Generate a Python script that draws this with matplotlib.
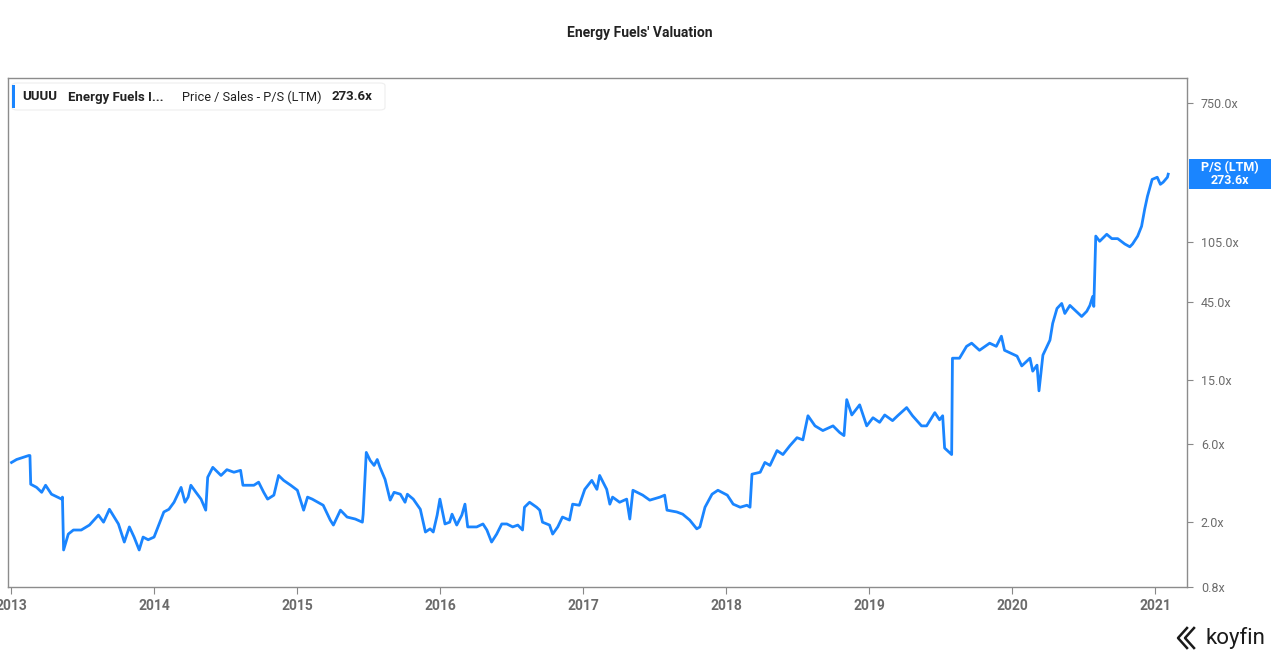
import matplotlib.pyplot as plt
import matplotlib.dates as mdates
from matplotlib.patches import FancyBboxPatch, Rectangle
from matplotlib.lines import Line2D
import pandas as pd

plt.rcParams['font.family'] = ['Roboto', 'DejaVu Sans']

# P/S (LTM)
dates = [
    '2013-01-02', '2013-01-15', '2013-02-15', '2013-02-18', '2013-02-20', '2013-03-07',
    '2013-03-20', '2013-03-30', '2013-04-14', '2013-05-10', '2013-05-12', '2013-05-15',
    '2013-05-27', '2013-06-09', '2013-06-29', '2013-07-20', '2013-08-12', '2013-08-25',
    '2013-09-09', '2013-10-02', '2013-10-17', '2013-10-30', '2013-11-11', '2013-11-24',
    '2013-12-04', '2013-12-17', '2014-01-01', '2014-01-11', '2014-01-26', '2014-02-08',
    '2014-02-21', '2014-03-11', '2014-03-21', '2014-03-29', '2014-04-05', '2014-04-18',
    '2014-05-01', '2014-05-13', '2014-05-18', '2014-05-31', '2014-06-21', '2014-07-06',
    '2014-07-24', '2014-08-10', '2014-08-16', '2014-09-13', '2014-09-25', '2014-10-08',
    '2014-10-18', '2014-11-03', '2014-11-15', '2014-11-28', '2014-12-16', '2015-01-02',
    '2015-01-18', '2015-01-28', '2015-02-09', '2015-03-09', '2015-03-27', '2015-04-04',
    '2015-04-22', '2015-05-09', '2015-05-30', '2015-06-17', '2015-06-19', '2015-06-27',
    '2015-07-07', '2015-07-17', '2015-07-25', '2015-08-01', '2015-08-14', '2015-08-27',
    '2015-09-06', '2015-09-22', '2015-10-04', '2015-10-10', '2015-10-25', '2015-11-12',
    '2015-11-25', '2015-12-07', '2015-12-15', '2015-12-25', '2016-01-01', '2016-01-14',
    '2016-01-26', '2016-02-01', '2016-02-13', '2016-02-26', '2016-03-05', '2016-03-12',
    '2016-04-04', '2016-04-20', '2016-04-30', '2016-05-12', '2016-05-25', '2016-06-07',
    '2016-06-20', '2016-07-05', '2016-07-18', '2016-07-30', '2016-08-04', '2016-08-17',
    '2016-09-04', '2016-09-12', '2016-09-19', '2016-10-07', '2016-10-15', '2016-10-28',
    '2016-11-09', '2016-11-27', '2016-12-05', '2016-12-22', '2017-01-05', '2017-01-23',
    '2017-02-05', '2017-02-12', '2017-03-02', '2017-03-10', '2017-03-17', '2017-04-04',
    '2017-04-22', '2017-04-30', '2017-05-08', '2017-06-02', '2017-06-20', '2017-07-16',
    '2017-07-28', '2017-08-03', '2017-08-28', '2017-09-12', '2017-09-30', '2017-10-18',
    '2017-10-26', '2017-11-08', '2017-11-26', '2017-12-11', '2018-01-04', '2018-01-19',
    '2018-02-06', '2018-02-23', '2018-03-03', '2018-03-08', '2018-03-29', '2018-04-10',
    '2018-04-23', '2018-05-11', '2018-05-26', '2018-06-13', '2018-07-01', '2018-07-16',
    '2018-07-29', '2018-08-16', '2018-09-05', '2018-10-01', '2018-10-18', '2018-10-29',
    '2018-11-05', '2018-11-18', '2018-12-08', '2018-12-26', '2019-01-11', '2019-01-28',
    '2019-02-10', '2019-03-02', '2019-03-15', '2019-04-07', '2019-04-22', '2019-05-15',
    '2019-05-28', '2019-06-18', '2019-06-30', '2019-07-08', '2019-07-13', '2019-07-31',
    '2019-08-02', '2019-08-20', '2019-09-07', '2019-09-20', '2019-10-10', '2019-11-05',
    '2019-11-22', '2019-12-05', '2019-12-13', '2020-01-14', '2020-01-26', '2020-02-16',
    '2020-02-23', '2020-03-05', '2020-03-10', '2020-03-20', '2020-04-07', '2020-04-14',
    '2020-04-25', '2020-05-07', '2020-05-15', '2020-05-28', '2020-06-27', '2020-07-10',
    '2020-07-18', '2020-07-25', '2020-07-28', '2020-08-02', '2020-08-12', '2020-08-30',
    '2020-09-12', '2020-09-27', '2020-10-15', '2020-10-28', '2020-11-04', '2020-11-17',
    '2020-11-27', '2020-12-05', '2020-12-12', '2020-12-24', '2021-01-06', '2021-01-14',
    '2021-01-21', '2021-02-01', '2021-02-03',
]
ps_ratio = [
    4.65, 4.85, 5.13, 5.13, 3.42, 3.27,
    3.05, 3.37, 2.97, 2.77, 2.85, 1.35,
    1.69, 1.79, 1.79, 1.92, 2.21, 2.00,
    2.40, 1.95, 1.51, 1.87, 1.62, 1.35,
    1.62, 1.56, 1.62, 1.87, 2.31, 2.40,
    2.65, 3.27, 2.65, 2.85, 3.37, 3.05,
    2.77, 2.37, 3.77, 4.34, 3.87, 4.20,
    4.05, 4.16, 3.37, 3.37, 3.52, 3.05,
    2.77, 2.93, 3.87, 3.61, 3.37, 3.14,
    2.37, 2.85, 2.77, 2.54, 2.06, 1.92,
    2.37, 2.15, 2.09, 2.00, 2.24, 5.36,
    4.78, 4.46, 4.85, 4.34, 3.66, 2.73,
    3.05, 2.97, 2.65, 2.97, 2.77, 2.40,
    1.74, 1.82, 1.74, 2.21, 2.77, 1.95,
    2.00, 2.24, 1.92, 2.21, 2.58, 1.87,
    1.87, 1.95, 1.79, 1.51, 1.69, 1.95,
    1.95, 1.87, 1.92, 1.79, 2.47, 2.65,
    2.47, 2.37, 2.00, 1.92, 1.69, 1.87,
    2.15, 2.06, 2.58, 2.54, 3.18, 3.61,
    3.18, 3.87, 3.18, 2.58, 2.85, 2.65,
    2.77, 2.09, 3.14, 2.93, 2.73, 2.85,
    2.93, 2.37, 2.31, 2.24, 2.06, 1.82,
    1.87, 2.47, 2.97, 3.14, 2.93, 2.58,
    2.47, 2.54, 2.47, 3.94, 4.05, 4.65,
    4.46, 5.50, 5.20, 5.90, 6.60, 6.40,
    9.00, 7.80, 7.30, 7.80, 7.10, 6.80,
    11.3, 9.10, 10.5, 7.80, 8.75, 8.20,
    9.10, 8.40, 9.00, 10.1, 9.00, 7.80,
    7.80, 9.40, 8.50, 9.00, 5.70, 5.20,
    20.3, 20.3, 24.0, 25.1, 22.7, 25.1,
    24.0, 27.7, 22.7, 20.9, 18.2, 20.3,
    16.9, 18.4, 12.8, 21.2, 26.2, 33.2,
    41.0, 44.0, 38.2, 42.8, 36.6, 39.4,
    42.8, 48.5, 42.2, 114, 106, 117,
    110, 110, 102, 98, 102, 114,
    131, 167, 200, 254, 262, 237,
    244, 262, 273.6,
]
year_ticks = ['2013', '2014', '2015', '2016', '2017', '2018', '2019', '2020', '2021']
y_ticks = [0.8, 2.0, 6.0, 15.0, 45.0, 105.0, 750.0]
last_value = 273.6

blue = '#1A85FF'
grey = '#6b6b6b'

fig = plt.figure(figsize=(12.8, 6.62), dpi=100)
ax = fig.add_axes([8 / 1280, 75 / 662, 1179 / 1280, 509 / 662])

ax.plot(pd.to_datetime(dates), ps_ratio, color=blue, lw=2.0, solid_joinstyle='round')

ax.set_yscale('log')
ax.set_ylim(0.8, 1065)
ax.set_xlim(pd.Timestamp('2012-12-24'), pd.Timestamp('2021-03-23'))

ax.set_yticks(y_ticks)
ax.set_yticklabels(['{:.1f}x'.format(v) for v in y_ticks])
ax.yaxis.set_minor_locator(plt.NullLocator())
ax.yaxis.tick_right()
ax.tick_params(axis='y', colors='#888888', labelcolor=grey, labelsize=9, length=4, pad=6)

ax.set_xticks(pd.to_datetime([y + '-01-01' for y in year_ticks]))
ax.set_xticklabels(year_ticks)
ax.tick_params(axis='x', colors='#888888', labelcolor=grey, labelsize=10, length=5, pad=4)
for lab in ax.get_xticklabels():
    lab.set_fontweight('bold')

for s in ax.spines.values():
    s.set_color('#8c8c8c')
    s.set_linewidth(1.0)

fig.text(640 / 1280, 1 - 33 / 662, "Energy Fuels' Valuation", ha='center', va='center',
         fontsize=10, fontweight='bold', color='#222222')

# legend box top-left
fig.add_artist(FancyBboxPatch((12 / 1280, 1 - 110 / 662), 373 / 1280, 27 / 662,
                              boxstyle='round,pad=0,rounding_size=0.004',
                              transform=fig.transFigure, fc='white', ec='#eeeeee', lw=0.8))
fig.add_artist(Rectangle((12 / 1280, 1 - 108 / 662), 3 / 1280, 23 / 662,
                         transform=fig.transFigure, fc=blue, ec='none'))
ly = 1 - 97 / 662
fig.text(22 / 1280, ly, 'UUUU', fontsize=9.5, fontweight='bold', color='#222222', va='center')
fig.text(68 / 1280, ly, 'Energy Fuels I...', fontsize=9.5, fontweight='bold', color='#222222', va='center')
fig.text(182 / 1280, ly, 'Price / Sales - P/S (LTM)', fontsize=9.2, color='#222222', va='center')
fig.text(332 / 1280, ly, '{:.1f}x'.format(last_value), fontsize=9.5, fontweight='bold', color='#222222', va='center')

# last value box on the right axis
fig.canvas.draw()
ypix = ax.transData.transform((ax.get_xlim()[0], last_value))[1]
yfig = ypix / fig.bbox.height
fig.add_artist(Rectangle((1189 / 1280, yfig - 15 / 662), 82 / 1280, 30 / 662,
                         transform=fig.transFigure, fc=blue, ec='none'))
fig.text(1230 / 1280, yfig, 'P/S (LTM)\n{:.1f}x'.format(last_value), ha='center', va='center',
         fontsize=9, fontweight='bold', color='white', linespacing=1.0)

# koyfin logo
fig.text(1265 / 1280, 1 - 638 / 662, 'koyfin', ha='right', va='center', fontsize=16, color='#1a1a1a')
for dx in (0, 7):
    fig.add_artist(Line2D([(1187 + dx) / 1280, (1178 + dx) / 1280, (1187 + dx) / 1280],
                          [1 - 628 / 662, 1 - 638 / 662, 1 - 648 / 662],
                          transform=fig.transFigure, color='#1a1a1a', lw=1.8))

fig.savefig('out.png', dpi=100)
